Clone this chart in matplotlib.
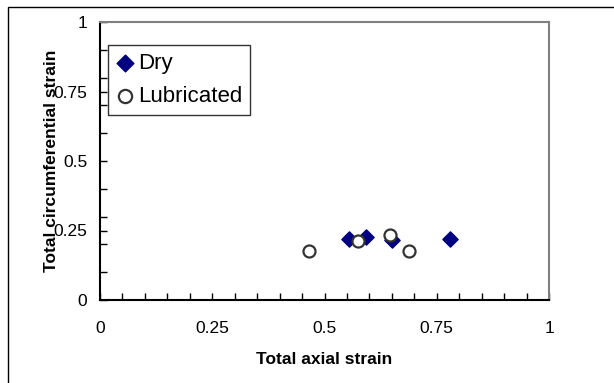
import numpy as np
import matplotlib.pyplot as plt
from matplotlib.patches import Rectangle

plt.rcParams['font.family'] = ['Liberation Sans', 'DejaVu Sans']

# data
dry_x = [0.555, 0.592, 0.650, 0.779]
dry_y = [0.218, 0.226, 0.216, 0.220]
lub_x = [0.465, 0.575, 0.646, 0.688]
lub_y = [0.178, 0.214, 0.233, 0.175]

major_ticks = [0, 0.25, 0.5, 0.75, 1]
tick_labels = ['0', '0.25', '0.5', '0.75', '1']

fig = plt.figure(figsize=(6.14, 3.83), dpi=100)
ax = fig.add_axes([100 / 614, 1 - 300 / 383, 449 / 614, 278 / 383])

ax.scatter(dry_x, dry_y, marker='D', s=60, color='#000080', label='Dry', zorder=3)
ax.scatter(lub_x, lub_y, marker='o', s=75, facecolor='white', edgecolor='#333333',
           linewidth=1.6, label='Lubricated', zorder=4)

ax.set_xlim(0, 1)
ax.set_ylim(0, 1)

# major labels, inward ticks
ax.set_xticks(major_ticks)
ax.set_xticklabels(tick_labels)
ax.set_yticks(major_ticks)
ax.set_yticklabels(tick_labels)
ax.set_xticks(np.arange(0, 1.0001, 0.05), minor=True)
ax.set_yticks(np.arange(0, 1.0001, 0.1), minor=True)
ax.tick_params(axis='x', which='both', direction='in', length=5, width=1,
               top=False, pad=15, labelsize=12.5)
ax.tick_params(axis='y', which='both', direction='in', length=5, width=1,
               right=False, pad=9, labelsize=12.5)

for side in ['left', 'bottom']:
    ax.spines[side].set_color('black')
    ax.spines[side].set_linewidth(1.5)
for side in ['top', 'right']:
    ax.spines[side].set_color('#808080')
    ax.spines[side].set_linewidth(1.5)

ax.set_xlabel('Total axial strain', fontweight='bold', fontsize=12.5, labelpad=12)
ax.set_ylabel('Total circumferential strain', fontweight='bold', fontsize=12.5)
ax.yaxis.set_label_coords(-0.092, 0.5)

leg = ax.legend(loc='upper left', bbox_to_anchor=(0.018, 0.917), fontsize=16,
                frameon=True, fancybox=False, edgecolor='black', handletextpad=0.2,
                handlelength=0.8, borderpad=0.35, labelspacing=0.55, borderaxespad=0,
                markerscale=1.1)
leg.get_frame().set_linewidth(1)

# outer chart border
fig.patches.append(Rectangle((8 / 614, -0.01), 1.0, 1 - 7 / 383 + 0.01,
                             transform=fig.transFigure, fill=False,
                             edgecolor='black', linewidth=1))

fig.savefig('out.png', dpi=100)
